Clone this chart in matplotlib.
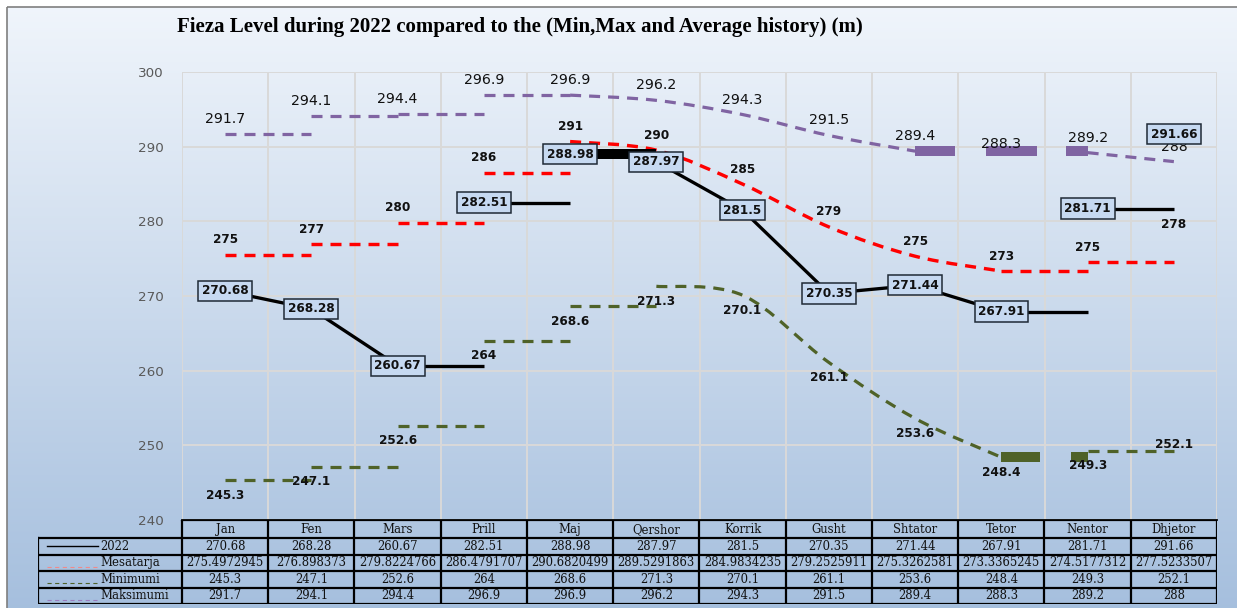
import numpy as np
import matplotlib
matplotlib.use("Agg")
import matplotlib.pyplot as plt
from matplotlib.path import Path
from matplotlib.patches import PathPatch, Rectangle

plt.rcParams['lines.scale_dashes'] = False

months = ["Jan", "Fen", "Mars", "Prill", "Maj", "Qershor", "Korrik", "Gusht",
          "Shtator", "Tetor", "Nentor", "Dhjetor"]
lvl_2022 = [270.68, 268.28, 260.67, 282.51, 288.98, 287.97, 281.5, 270.35,
            271.44, 267.91, 281.71, 291.66]
mesatarja = [275.4972945, 276.898373, 279.8224766, 286.4791707, 290.6820499,
             289.5291863, 284.9834235, 279.2525911, 275.3262581, 273.3365245,
             274.5177312, 277.5233507]
minimumi = [245.3, 247.1, 252.6, 264, 268.6, 271.3, 270.1, 261.1, 253.6,
            248.4, 249.3, 252.1]
maksimumi = [291.7, 294.1, 294.4, 296.9, 296.9, 296.2, 294.3, 291.5, 289.4,
             288.3, 289.2, 288]

# how excel rendered each month-to-month piece (it is a broken render)
seg_2022 = ['line', 'line', 'step', 'step', 'block', 'line', 'line', 'line', 'line', 'step', 'step']
seg_mean = ['step', 'step', 'step', 'step', 'curve', 'curve', 'curve', 'curve', 'curve', 'step', 'step']
seg_min = ['step', 'step', 'step', 'step', 'step', 'curve', 'curve', 'curve', 'curve', 'block', 'step']
seg_max = ['step', 'step', 'step', 'step', 'curve', 'curve', 'curve', 'curve', 'block', 'block', 'curve']

W, H = 1237, 608
PX = 0.72  # points per pixel at dpi 100

fig = plt.figure(figsize=(W / 100, H / 100), dpi=100)

# background gradient of the chart area
bg = fig.add_axes([0, 0, 1, 1], zorder=-10)
bg.set_xlim(0, W)
bg.set_ylim(H, 0)
bg.axis('off')
grad = np.linspace(0, 1, 256).reshape(-1, 1)
top = np.array([0.94, 0.96, 0.985])
bot = np.array([0.65, 0.75, 0.87])
img = top + (bot - top) * grad[..., None]
bg.imshow(img, extent=[7, W, H, 7], aspect='auto', interpolation='bilinear')
bg.add_patch(Rectangle((7, 7), W, H, fill=False, ec='#7f7f7f', lw=1.2))

x0, x1, y0, y1 = 182, 1217, 72, 520
ax = fig.add_axes([x0 / W, 1 - y1 / H, (x1 - x0) / W, (y1 - y0) / H])
ax.set_facecolor('none')
ax.set_xlim(-0.5, 11.5)
ax.set_ylim(240, 300)
ax.set_yticks(np.arange(240, 301, 10))
ax.set_xticks(np.arange(-0.5, 12, 1))
ax.set_xticklabels([])
ax.grid(True, color='#d9d9d9', lw=1.4)
ax.set_axisbelow(True)
ax.tick_params(length=0, labelsize=9.7, labelcolor='#595959', pad=13)
for s in ['top', 'right', 'left']:
    ax.spines[s].set_visible(False)
ax.spines['bottom'].set_color('black')
ax.spines['bottom'].set_linewidth(1.3)

xs = np.arange(len(months))


def bezier_run(vals, a, b):
    verts = [(a, vals[a])]
    codes = [Path.MOVETO]
    for i in range(a, b):
        p0 = np.array([max(i - 1, a), vals[max(i - 1, a)]])
        p1 = np.array([i, vals[i]])
        p2 = np.array([i + 1, vals[i + 1]])
        p3 = np.array([min(i + 2, b), vals[min(i + 2, b)]])
        c1 = p1 + (p2 - p0) / 6
        c2 = p2 - (p3 - p1) / 6
        verts += [tuple(c1), tuple(c2), tuple(p2)]
        codes += [Path.CURVE4] * 3
    return Path(verts, codes)


def draw_series(vals, segs, color, lw, ls, block_ls):
    i = 0
    n = len(segs)
    while i < n:
        kind = segs[i]
        j = i
        while j + 1 < n and segs[j + 1] == kind and kind != 'step':
            j += 1
        if kind == 'step':
            ax.plot([i, i + 1], [vals[i], vals[i]], color=color, lw=lw, ls=ls,
                    solid_capstyle='butt')
        elif kind == 'line':
            ax.plot(xs[i:j + 2], vals[i:j + 2], color=color, lw=lw, ls=ls,
                    solid_capstyle='butt')
        elif kind == 'curve':
            ax.add_patch(PathPatch(bezier_run(vals, i, j + 1), fill=False,
                                   ec=color, lw=lw, ls=ls, capstyle='butt'))
        elif kind == 'block':
            ax.plot([i, j + 1], [vals[i], vals[i]], color=color, lw=10 * PX,
                    ls=block_ls, solid_capstyle='butt', dash_capstyle='butt')
        i = j + 1


dash = (0, (11 * PX, 8 * PX))
draw_series(maksimumi, seg_max, '#8064A2', 3.2 * PX, dash,
            (0, (40 * PX, 31 * PX, 51 * PX, 29 * PX)))
draw_series(mesatarja, seg_mean, '#FF0000', 3.4 * PX, dash, '-')
draw_series(minimumi, seg_min, '#4F6228', 3.2 * PX, dash,
            (0, (39 * PX, 31 * PX)))
draw_series(lvl_2022, seg_2022, 'black', 3.3 * PX, '-', '-')

off = 15 * PX
for i in xs:
    ax.annotate(f"{maksimumi[i]:g}", (i, maksimumi[i]), xytext=(0, off),
                textcoords='offset points', ha='center', va='center',
                fontsize=10.2, color='#111111')
    ax.annotate(f"{mesatarja[i]:.0f}", (i, mesatarja[i]), xytext=(0, off),
                textcoords='offset points', ha='center', va='center',
                fontsize=8.7, fontweight='bold', color='#111111')
    ax.annotate(f"{minimumi[i]:g}", (i, minimumi[i]), xytext=(0, -off),
                textcoords='offset points', ha='center', va='center',
                fontsize=8.7, fontweight='bold', color='#111111')
    ax.text(i, lvl_2022[i], f"{lvl_2022[i]:g}", ha='center', va='center',
            fontsize=8.7, fontweight='bold', color='#111111', zorder=6,
            bbox=dict(boxstyle='square,pad=0.3', fc='#C6D9F1', ec='#1f2a36', lw=1.1))

fig.text(520 / W, 1 - 27 / H,
         "Fieza Level during 2022 compared to the (Min,Max and Average history) (m)",
         ha='center', va='center', fontsize=15, fontweight='bold',
         family='Liberation Serif')

# data table under the plot
tx0, ty1 = 38, 604
tab = fig.add_axes([tx0 / W, 1 - ty1 / H, (x1 - tx0) / W, (ty1 - y1) / H])
tab.set_facecolor('none')
tab.axis('off')
left = -0.5 - (x0 - tx0) / 86.25
tab.set_xlim(left, 11.5)
tab.set_ylim(ty1 - y1, 0)
row_edges = [0, 18, 34.5, 51, 67.5, 84]
tkw = dict(color='black', lw=1.6, solid_capstyle='projecting')
for e in row_edges:
    tab.plot([left if e > 0 else -0.5, 11.5], [e, e], **tkw)
for c in np.arange(-0.5, 12, 1):
    tab.plot([c, c], [0, 84], **tkw)
tab.plot([left, left], [18, 84], **tkw)

tfont = dict(family='DejaVu Serif', fontsize=8.4, ha='center', va='center', color='#111111')
for i, m in enumerate(months):
    tab.text(i, 9.5, m, **tfont)
rows = [(lvl_2022, '{:g}'), (mesatarja, '{:.7f}'), (minimumi, '{:g}'), (maksimumi, '{:g}')]
for r, (vals, fmt) in enumerate(rows):
    yc = (row_edges[r + 1] + row_edges[r + 2]) / 2
    for i in xs:
        txt = fmt.format(vals[i]).rstrip('0').rstrip('.') if fmt != '{:g}' else fmt.format(vals[i])
        tab.text(i, yc, txt, **tfont)

names = ["2022", "Mesatarja", "Minimumi", "Maksimumi"]
samples = [('black', '-', 1.0), ('#F08A8A', (0, (3, 2.5)), 0.8),
           ('#4F6228', (0, (3, 2.5)), 0.8), ('#9A7CC0', (0, (3, 2.5)), 0.8)]
px_to_x = 1 / 86.25
for r, name in enumerate(names):
    yc = (row_edges[r + 1] + row_edges[r + 2]) / 2
    col, ls, lw = samples[r]
    ly = yc if r == 0 else yc + 4
    tab.plot([left + 9 * px_to_x, left + 60 * px_to_x], [ly, ly], color=col, ls=ls, lw=lw)
    tab.text(left + 62 * px_to_x, yc, name, family='DejaVu Serif', fontsize=8.4,
             ha='left', va='center', color='#111111')

fig.savefig("out.png", dpi=100)
